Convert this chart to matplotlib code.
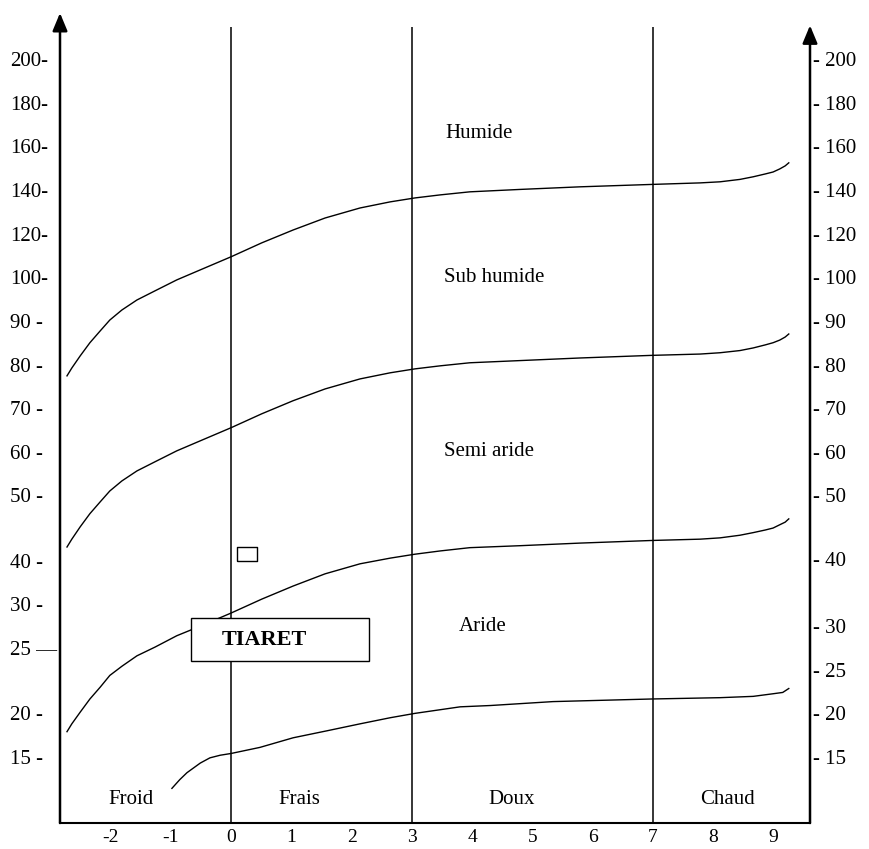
import matplotlib.pyplot as plt
from matplotlib.patches import Rectangle
import numpy as np

plt.rcParams['font.family'] = ['Liberation Serif', 'DejaVu Serif']
plt.rcParams['font.size'] = 15

# Climagramme d'Emberger : Q2 en fonction de m (°C)
zone_bounds = [0, 3, 7]
x_ticks = [-2, -1, 0, 1, 2, 3, 4, 5, 6, 7, 8, 9]

# echelle de Q2 (non lineaire) : valeur -> rang sur l'axe de gauche
q_vals = [5, 10, 15, 20, 25, 30, 40, 50, 60, 70, 80, 90, 100, 120, 140, 160, 180, 200, 220]
q_rank = [-2, -1, 0, 1, 2.5, 3.5, 4.5, 6, 7, 8, 9, 10, 11, 12, 13, 14, 15, 16, 17]

left_ticks = [15, 20, 25, 30, 40, 50, 60, 70, 80, 90, 100, 120, 140, 160, 180, 200]
left_labels = ["15 -", "20 -", "25 \u2014", "30 -", "40 -", "50 -", "60 -", "70 -",
               "80 -", "90 -", "100-", "120-", "140-", "160-", "180-", "200-"]
right_rank = [0, 1, 2, 3, 4.55, 6, 7, 8, 9, 10, 11, 12, 13, 14, 15, 16]
right_labels = ["- 15", "- 20", "- 25", "- 30", "- 40", "- 50", "- 60", "- 70",
                "- 80", "- 90", "- 100", "- 120", "- 140", "- 160", "- 180", "- 200"]

# limites entre etages bioclimatiques
m_x = [-2.72, -2.64, -2.50, -2.34, -2.17, -2.01, -1.81, -1.56, -1.26, -0.90, -0.51,
       0, 0.51, 1.03, 1.56, 2.14, 2.64, 3.05, 3.47, 3.96, 4.79, 5.79, 6.98, 7.78,
       8.11, 8.44, 8.66, 8.86, 8.99, 9.10, 9.19, 9.25]
humide = [77.4, 79.2, 82.0, 85.0, 87.7, 90.2, 92.5, 94.8, 96.9, 99.4, 103.4,
          109.4, 115.8, 121.7, 127.2, 131.8, 134.6, 136.4, 137.8, 139.2, 140.3, 141.5,
          142.6, 143.3, 143.8, 144.9, 146.1, 147.4, 148.3, 149.7, 151.1, 152.5]
subhumide = [42.1, 43.3, 45.2, 47.2, 49.0, 51.0, 53.3, 55.6, 57.7, 60.2, 62.5,
             65.5, 68.7, 71.7, 74.4, 76.7, 78.1, 79.0, 79.7, 80.4, 80.9, 81.5,
             82.1, 82.4, 82.7, 83.2, 83.8, 84.5, 85.0, 85.6, 86.3, 87.0]
semiaride = [17.9, 18.8, 20.1, 21.1, 22.0, 22.9, 23.6, 24.4, 25.1, 26.4, 27.5,
             29.0, 31.2, 34.2, 37.0, 39.3, 40.4, 41.0, 41.5, 42.0, 42.3, 42.7,
             43.1, 43.3, 43.5, 43.9, 44.3, 44.7, 45.0, 45.5, 45.9, 46.4]
m_x4 = [-0.98, -0.85, -0.73, -0.63, -0.51, -0.35, -0.18, 0, 0.48, 1.03, 1.59,
        2.14, 2.64, 3.05, 3.80, 4.30, 5.34, 6.98, 8.11, 8.66, 8.99, 9.15, 9.25]
aride = [11.4, 12.4, 13.2, 13.7, 14.3, 14.9, 15.2, 15.4, 16.1, 17.2, 18.0,
         18.8, 19.5, 20.0, 20.5, 20.6, 20.9, 21.1, 21.2, 21.3, 21.5, 21.6, 21.9]

# station
tiaret_m = 0.27
tiaret_q2 = 41.1

etages = ["Humide", "Sub humide", "Semi aride", "Aride"]
etages_q2 = [166, 100, 60, 27.5]
etages_m = [3.55, 3.53, 3.53, 3.78]
hivers = ["Froid", "Frais", "Doux", "Chaud"]
hivers_m = [-1.66, 1.14, 4.66, 8.24]


def fwd(q):
    return np.interp(q, q_vals, q_rank)


def inv(r):
    return np.interp(r, q_rank, q_vals)


fig = plt.figure(figsize=(8.7, 8.49), dpi=100)
ax = fig.add_axes([60 / 870, 1 - 823 / 849, 750 / 870, 796 / 849])
ax.set_yscale('function', functions=(fwd, inv))
ax.set_xlim(-2.836, 9.602)
ax.set_ylim(inv(-1.514), inv(16.74))

for b in zone_bounds:
    ax.axvline(b, color="black", lw=1.1)

for serie in [humide, subhumide, semiaride]:
    ax.plot(m_x, serie, color="black", lw=1.0)
ax.plot(m_x4, aride, color="black", lw=1.0)

rect = [(-1, -0.7), (1, -0.7), (1, 0.7), (-1, 0.7), (-1, -0.7)]
ax.plot([tiaret_m], [tiaret_q2], ls="none", marker=rect, ms=14.4,
        mfc="white", mec="black", mew=1, zorder=6)

ax.add_patch(Rectangle((-0.66, 24.0), 2.95, 4.4, fc="white", ec="black", lw=1, zorder=5))
ax.text(0.56, 25.9, "TIARET", fontweight="bold", fontsize=16, ha="center", va="center", zorder=6)

for nom, q, m in zip(etages, etages_q2, etages_m):
    ax.text(m, q, nom, ha="left", va="center")
for nom, m in zip(hivers, hivers_m):
    ax.text(m, 10.1, nom, ha="center", va="center")

ax.set_xticks(x_ticks, [str(v) for v in x_ticks])
ax.tick_params(axis="x", length=0, pad=4.5, labelsize=14)
ax.set_yticks(left_ticks, left_labels)
ax.yaxis.set_minor_locator(plt.NullLocator())
ax.tick_params(axis="y", length=0, pad=36)
for t in ax.get_yticklabels():
    t.set_ha("left")

for s in ["top", "left", "right"]:
    ax.spines[s].set_visible(False)
ax.spines["bottom"].set_linewidth(1.5)

ax2 = ax.twinx()
ax2.set_ylim(-1.514, 16.74)
ax2.set_yticks(right_rank, right_labels)
ax2.tick_params(axis="y", length=0, pad=2)
for s in ax2.spines.values():
    s.set_visible(False)

arrow = dict(arrowstyle="-|>,head_length=0.6,head_width=0.25", lw=1.8, color="black",
             mutation_scale=18, shrinkA=0, shrinkB=0)
ax.annotate("", xy=(0, 1.0176), xytext=(0, 0), xycoords="axes fraction",
            textcoords="axes fraction", arrowprops=arrow, annotation_clip=False)
ax.annotate("", xy=(1, 1.002), xytext=(1, 0), xycoords="axes fraction",
            textcoords="axes fraction", arrowprops=arrow, annotation_clip=False)

fig.savefig("out.png", dpi=100)
